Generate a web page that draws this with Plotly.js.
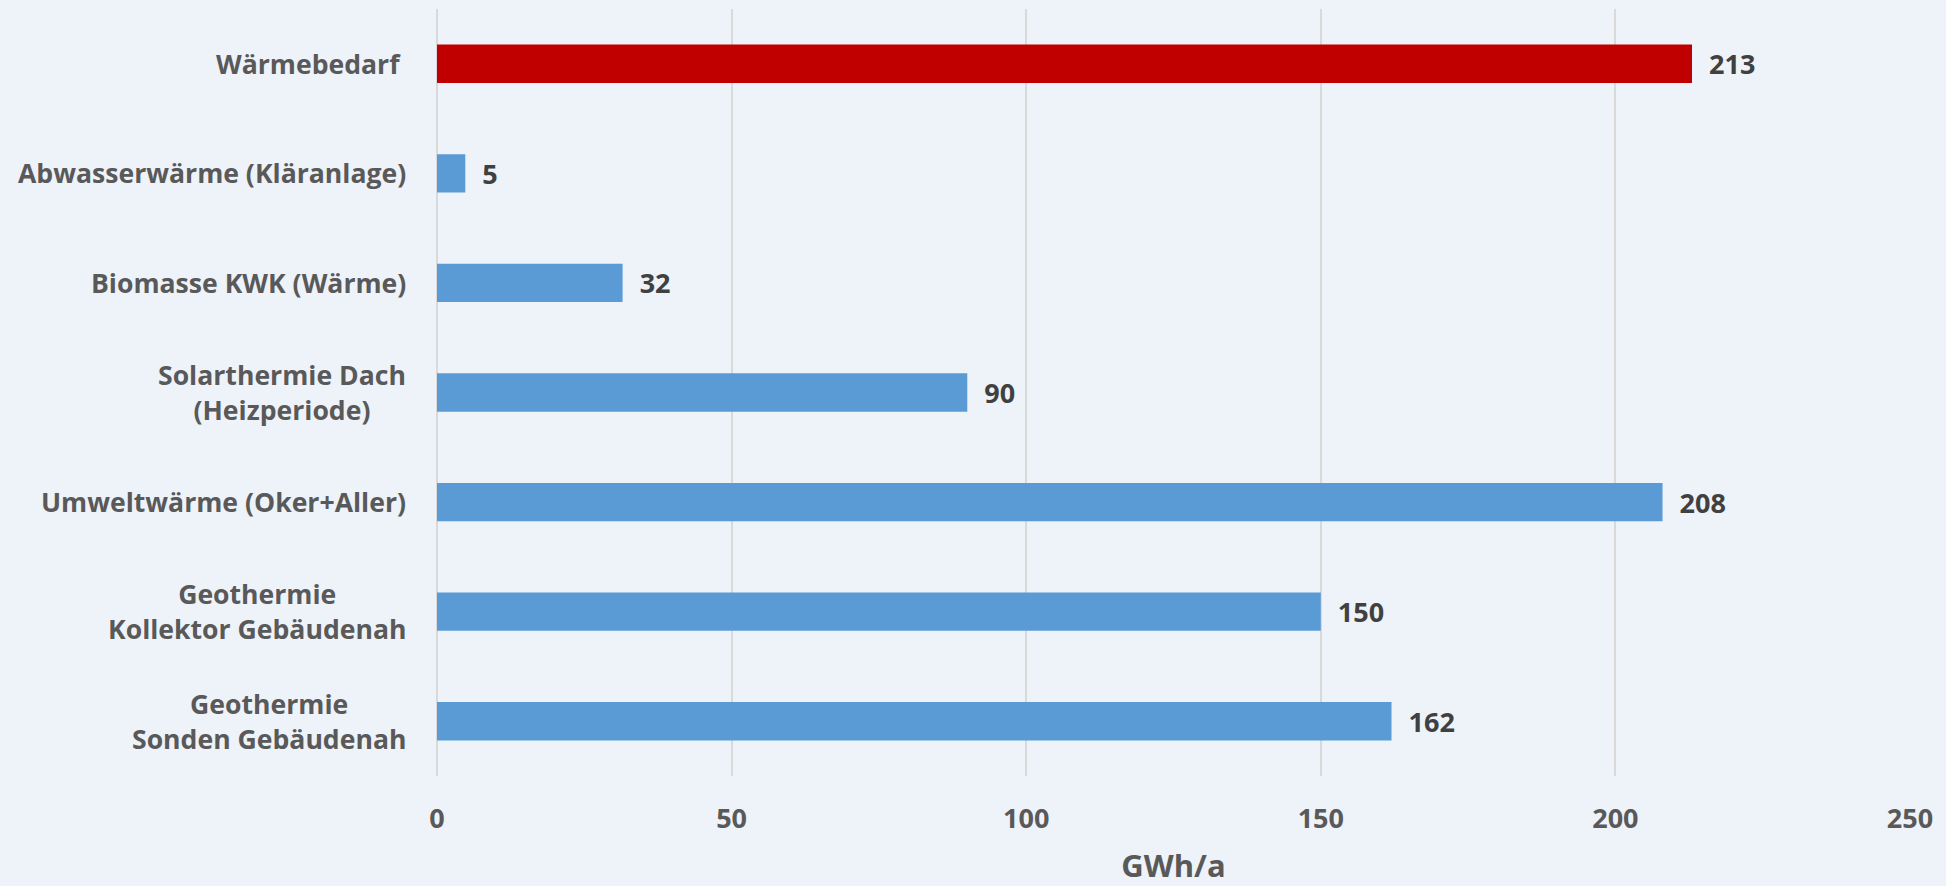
<!DOCTYPE html>
<html>
<head>
<meta charset="utf-8">
<script src="https://cdn.plot.ly/plotly-3.0.1.min.js"></script>
<style>
  html, body { margin: 0; padding: 0; background: #eef2f9; }
  #chart { width: 1946px; height: 886px; }
</style>
</head>
<body>
<div id="chart"></div>
<script>
// ---- Data ----
const demandCategories = ["Wärmebedarf "];
const demandValues = [213];

const potentialCategories = [
  "Abwasserwärme (Kläranlage)",
  "Biomasse KWK (Wärme)",
  "Solarthermie Dach<br>(Heizperiode)",
  "Umweltwärme (Oker+Aller)",
  "Geothermie<br>Kollektor Gebäudenah",
  "Geothermie<br>Sonden Gebäudenah"
];
const potentialValues = [4.8, 31.5, 90, 208, 150, 162];

const xTickValues = [0, 50, 100, 150, 200, 250];
const xAxisTitle = "GWh/a";

// ---- Chart ----
const allCategories = demandCategories.concat(potentialCategories);
const FONT = "'Open Sans', 'DejaVu Sans', sans-serif";
const labelFont = { family: FONT, size: 27, color: "#404040", weight: 700 };

const traceCommon = {
  type: "bar",
  orientation: "h",
  texttemplate: "\u00a0\u00a0%{x:.0f}",
  textposition: "outside",
  textfont: labelFont,
  constraintext: "none",
  cliponaxis: false,
  hoverinfo: "x+y"
};

const data = [
  Object.assign({}, traceCommon, {
    name: "Wärmebedarf",
    y: demandCategories,
    x: demandValues,
    marker: { color: "#c00000" }
  }),
  Object.assign({}, traceCommon, {
    name: "Potenziale",
    y: potentialCategories,
    x: potentialValues,
    marker: { color: "#5b9bd5" }
  })
];

const annotations = allCategories.map(c => ({
  xref: "paper", yref: "y",
  x: 0, y: c,
  xanchor: "right", yanchor: "middle",
  xshift: -29,
  text: c,
  align: "center",
  showarrow: false,
  font: { family: FONT, size: 26.6, color: "#595959", weight: 700 }
}));

const layout = {
  width: 1946,
  height: 886,
  paper_bgcolor: "#eef2f9",
  plot_bgcolor: "#eef2f9",
  margin: { l: 437, r: 36, t: 9, b: 110 },
  showlegend: false,
  barmode: "overlay",
  bargap: 0.65,
  xaxis: {
    range: [0, 250],
    tickvals: xTickValues,
    ticktext: xTickValues.map(String),
    showgrid: true,
    gridcolor: "#d9d9d9",
    gridwidth: 2,
    zeroline: true,
    zerolinecolor: "#d9d9d9",
    zerolinewidth: 2,
    showline: false,
    ticks: "",
    ticklabelstandoff: 24,
    tickfont: { family: FONT, size: 27, color: "#595959", weight: 700 },
    title: {
      text: xAxisTitle,
      font: { family: FONT, size: 31, color: "#595959", weight: 700 },
      standoff: 22
    },
    automargin: false,
    fixedrange: true
  },
  yaxis: {
    type: "category",
    categoryorder: "array",
    categoryarray: allCategories,
    autorange: "reversed",
    showticklabels: false,
    showgrid: false,
    zeroline: false,
    showline: false,
    ticks: "",
    automargin: false,
    fixedrange: true
  },
  annotations: annotations
};

Plotly.newPlot("chart", data, layout, { displayModeBar: false, staticPlot: true });
</script>
</body>
</html>
